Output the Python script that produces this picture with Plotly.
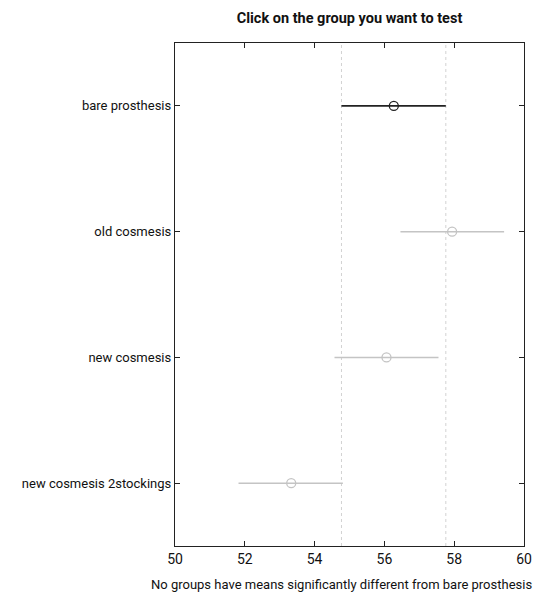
import plotly.graph_objects as go

# Group means and comparison intervals
groups = ["bare prosthesis", "old cosmesis", "new cosmesis", "new cosmesis 2stockings"]
means = [56.27, 57.94, 56.06, 53.33]
lower = [54.77, 56.46, 54.57, 51.82]
upper = [57.76, 59.43, 57.55, 54.81]
selected = "bare prosthesis"

x_ticks = [50, 52, 54, 56, 58, 60]
x_label = "No groups have means significantly different from bare prosthesis"

FONT = "Roboto, Liberation Sans, sans-serif"
n = len(groups)
ypos = [n - i for i in range(n)]


def fnt(size=13, weight="normal"):
    return dict(family=FONT, size=size, color="#111111", weight=weight)


fig = go.Figure()

sel_idx = groups.index(selected)
sel_lo, sel_hi = lower[sel_idx], upper[sel_idx]

# Dotted reference lines at the selected group's interval bounds
for xv in (sel_lo, sel_hi):
    fig.add_trace(go.Scatter(
        x=[xv, xv], y=[0.5, n + 0.5], mode="lines",
        line=dict(color="#d2d2d2", width=1, dash="dot"),
        hoverinfo="skip", showlegend=False))

for g, m, lo, hi, y in zip(groups, means, lower, upper, ypos):
    col = "#222222" if g == selected else "#c4c4c4"
    fig.add_trace(go.Scatter(
        x=[lo, hi], y=[y, y], mode="lines",
        line=dict(color=col, width=1.8 if g == selected else 1.5),
        showlegend=False, hoverinfo="skip"))
    fig.add_trace(go.Scatter(
        x=[m], y=[y], mode="markers",
        marker=dict(symbol="circle-open", size=9, color=col,
                    line=dict(width=1.3, color=col)),
        showlegend=False, name=g))

fig.update_layout(
    width=533, height=598,
    margin=dict(l=175, r=9, t=43, b=52, autoexpand=False),
    paper_bgcolor="white", plot_bgcolor="white",
    font=fnt(),
    title=dict(text="Click on the group you want to test",
               x=0.5, xref="paper", xanchor="center",
               y=0.97, yanchor="middle",
               font=fnt(14.5, "bold")),
    annotations=[dict(
        text=x_label, xref="paper", yref="paper",
        x=0.478, y=-0.077, xanchor="center", yanchor="middle",
        showarrow=False, font=fnt(13))],
)

fig.update_xaxes(
    range=[50, 60], tickvals=x_ticks, ticktext=[str(v) for v in x_ticks],
    ticks="inside", ticklen=5, tickcolor="#222222",
    showline=True, linecolor="#222222", linewidth=1.3, mirror="ticks",
    showgrid=False, zeroline=False, automargin=False,
    tickfont=fnt(14),
)
fig.update_yaxes(
    range=[0.5, n + 0.5], tickvals=ypos, ticktext=groups,
    ticks="inside", ticklen=5, tickcolor="#222222",
    showline=True, linecolor="#222222", linewidth=1.3, mirror="ticks",
    showgrid=False, zeroline=False, automargin=False,
    tickfont=fnt(13),
)

fig.write_html("out.html")
